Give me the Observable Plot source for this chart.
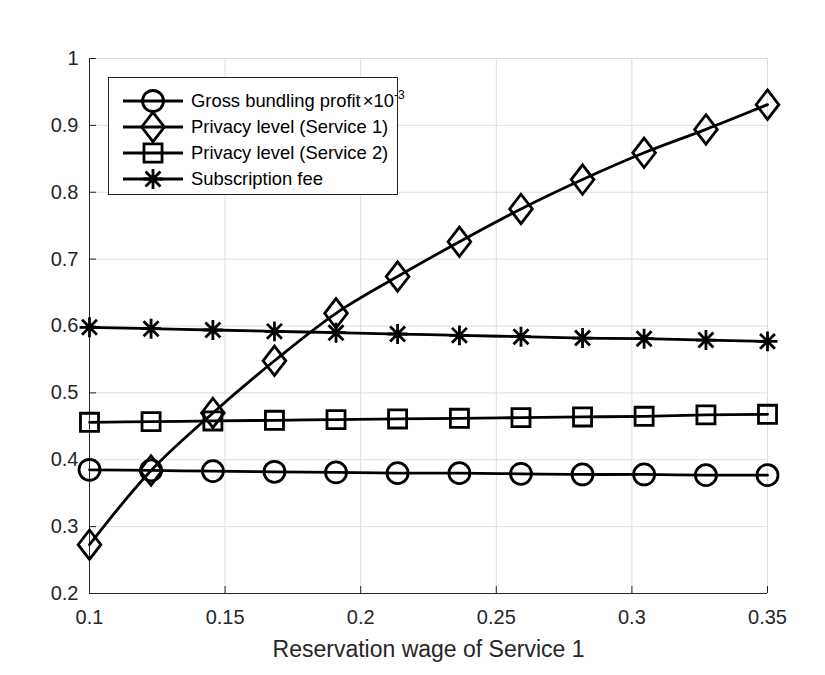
<!DOCTYPE html>
<html>
<head>
<meta charset="utf-8">
<script src="https://cdn.jsdelivr.net/npm/d3@7"></script>
<script src="https://cdn.jsdelivr.net/npm/@observablehq/plot@0.6"></script>
<style>
  html, body { margin: 0; padding: 0; background: #fff; }
  #wrap { position: relative; width: 825px; height: 675px; font-family: "Liberation Sans", Arial, Helvetica, sans-serif; color: #262626; }
  #legend { position: absolute; left: 108px; top: 77px; width: 290px; height: 118px; box-sizing: border-box; border: 1px solid #262626; background: #fff; }
  .row { position: absolute; left: 0; height: 26px; width: 100%; }
  .row svg { position: absolute; left: 0; top: 0; }
  .row span.lab { position: absolute; left: 82px; top: 0; line-height: 26px; font-size: 18.4px; white-space: nowrap; color: #000; }
  sup { font-size: 12px; vertical-align: 0; position: relative; top: -8px; }
</style>
</head>
<body>
<div id="wrap"><div id="legend"></div></div>
<script>
// ---- data ----
const wage = [0.1, 0.1227, 0.1455, 0.1682, 0.1909, 0.2136, 0.2364, 0.2591, 0.2818, 0.3045, 0.3273, 0.35];
const grossProfit = [0.385, 0.384, 0.383, 0.382, 0.381, 0.380, 0.380, 0.379, 0.378, 0.378, 0.377, 0.377];
const privacy1 = [0.273, 0.384, 0.470, 0.548, 0.619, 0.674, 0.726, 0.775, 0.819, 0.859, 0.894, 0.931];
const privacy2 = [0.456, 0.457, 0.458, 0.459, 0.460, 0.461, 0.462, 0.463, 0.464, 0.465, 0.467, 0.468];
const subscriptionFee = [0.598, 0.596, 0.594, 0.592, 0.590, 0.588, 0.586, 0.584, 0.582, 0.581, 0.579, 0.577];
const seriesNames = ["Gross bundling profit", "Privacy level (Service 1)", "Privacy level (Service 2)", "Subscription fee"];
const xTicks = [0.1, 0.15, 0.2, 0.25, 0.3, 0.35];
const yTicks = [0.2, 0.3, 0.4, 0.5, 0.6, 0.7, 0.8, 0.9, 1];
const xLabel = "Reservation wage of Service 1";

// ---- MATLAB-like marker symbols ----
const rad = s => Math.sqrt(s / Math.PI);
const symCircle = { draw(c, s) { const r = rad(s); c.moveTo(r, 0); c.arc(0, 0, r, 0, 2 * Math.PI); c.closePath(); } };
const symDiamond = { draw(c, s) { const r = rad(s); const w = r * 1.08, h = r * 1.4; c.moveTo(0, -h); c.lineTo(w, 0); c.lineTo(0, h); c.lineTo(-w, 0); c.closePath(); } };
const symSquare = { draw(c, s) { const r = rad(s) * 0.86; c.moveTo(-r, -r); c.lineTo(r, -r); c.lineTo(r, r); c.lineTo(-r, r); c.closePath(); } };
const symAster = { draw(c, s) { const a = rad(s) * 0.95, d = a * 0.75; c.moveTo(0, -a); c.lineTo(0, a); c.moveTo(-a, 0); c.lineTo(a, 0); c.moveTo(-d, -d); c.lineTo(d, d); c.moveTo(-d, d); c.lineTo(d, -d); } };
const symbols = [symCircle, symDiamond, symSquare, symAster];

const valueLists = [grossProfit, privacy1, privacy2, subscriptionFee];
const table = [];
seriesNames.forEach((name, k) => wage.forEach((x, i) => table.push({series: name, x, y: valueLists[k][i]})));

const fmt = d => String(+d.toFixed(2));
const R = 10.5;
const SW = 2.8;

const chart = Plot.plot({
  width: 825, height: 675,
  marginLeft: 89, marginRight: 58, marginTop: 58, marginBottom: 82,
  style: {fontFamily: "'Liberation Sans', Arial, Helvetica, sans-serif", fontSize: "20px", color: "#262626", background: "#fff", overflow: "visible"},
  x: {domain: [0.1, 0.35]},
  y: {domain: [0.2, 1]},
  symbol: {domain: seriesNames, range: symbols},
  marks: [
    Plot.gridX(xTicks, {stroke: "#dedede", strokeOpacity: 1, strokeWidth: 1}),
    Plot.gridY(yTicks, {stroke: "#dedede", strokeOpacity: 1, strokeWidth: 1}),
    Plot.ruleX([0.1], {stroke: "#262626", strokeWidth: 1}),
    Plot.ruleY([0.2], {stroke: "#262626", strokeWidth: 1}),
    Plot.axisX(xTicks, {tickSize: 7, dy: -7, tickFormat: () => "", label: null, stroke: "#262626"}),
    Plot.axisY(yTicks, {tickSize: 7, dx: 7, tickFormat: () => "", label: null, stroke: "#262626"}),
    Plot.axisX(xTicks, {tickSize: 0, tickPadding: 16, tickFormat: fmt, label: null, fontSize: 20, fill: "#262626"}),
    Plot.axisY(yTicks, {tickSize: 0, tickPadding: 11, tickFormat: fmt, label: null, fontSize: 20, fill: "#262626"}),
    Plot.axisX(xTicks, {tickSize: 0, tickFormat: () => "", label: xLabel, labelAnchor: "center", labelOffset: 63, labelArrow: "none", fontSize: 23, fill: "#262626"}),
    Plot.line(table, {x: "x", y: "y", z: "series", stroke: "#000", strokeWidth: SW, curve: "catmull-rom"}),
    Plot.dot(table, {x: "x", y: "y", symbol: "series", r: R, stroke: "#000", fill: "none", strokeWidth: SW})
  ]
});
document.getElementById("wrap").prepend(chart);

// ---- legend ----
const legend = document.getElementById("legend");
const labels = ["Gross bundling profit<span style=\"margin-left:2px\">×</span>10<sup>-3</sup>", seriesNames[1], seriesNames[2], seriesNames[3]];
labels.forEach((lab, i) => {
  const row = document.createElement("div");
  row.className = "row";
  row.style.top = (10 + 26 * i) + "px";
  const path = d3.symbol().type(symbols[i]).size(Math.PI * R * R)();
  row.innerHTML = `<svg width="80" height="26" style="overflow:visible"><line x1="14" x2="74" y1="13" y2="13" stroke="#000" stroke-width="${SW}"/><path transform="translate(44,13)" d="${path}" fill="none" stroke="#000" stroke-width="${SW}"/></svg><span class="lab">${lab}</span>`;
  legend.appendChild(row);
});
</script>
</body>
</html>
